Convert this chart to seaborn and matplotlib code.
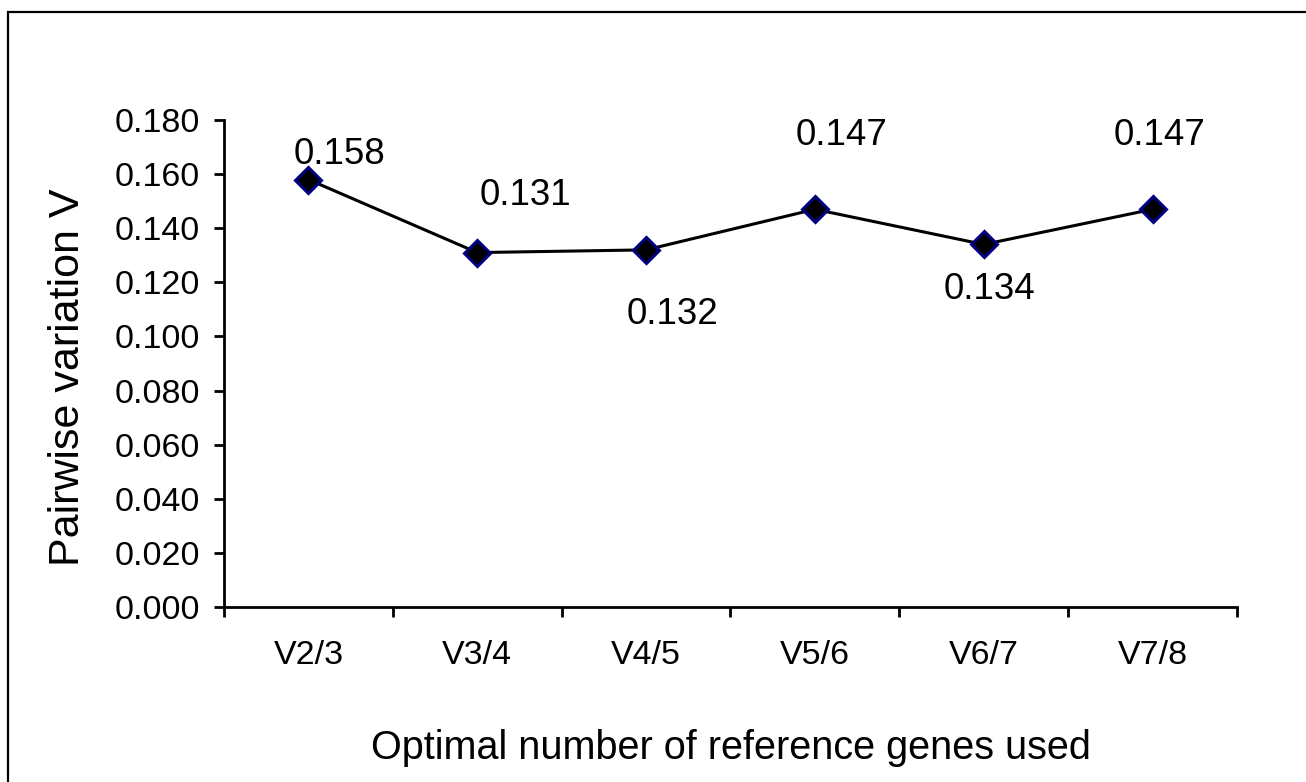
import matplotlib
matplotlib.use("Agg")
import matplotlib.pyplot as plt
import matplotlib.patches as mpatches
import seaborn as sns
import pandas as pd

# ---- data ----
categories = ["V2/3", "V3/4", "V4/5", "V5/6", "V6/7", "V7/8"]
pairwise_v = [0.158, 0.131, 0.132, 0.147, 0.134, 0.147]
y_ticks = [0.000, 0.020, 0.040, 0.060, 0.080, 0.100, 0.120, 0.140, 0.160, 0.180]
y_tick_labels = ["0.000", "0.020", "0.040", "0.060", "0.080", "0.100",
                 "0.120", "0.140", "0.160", "0.180"]
x_title = "Optimal number of reference genes used"
y_title = "Pairwise variation V"

# label offsets in pixels (layout only)
label_offsets = [(31, 25), (48, 57), (26, -65), (27, 74), (6, -45), (7, 74)]

sns.set_theme(style="white")
plt.rcParams["font.family"] = ["Liberation Sans", "DejaVu Sans"]
plt.rcParams["text.color"] = "black"
plt.rcParams["axes.labelcolor"] = "black"
plt.rcParams["xtick.color"] = "black"
plt.rcParams["ytick.color"] = "black"

W, H, DPI = 1306, 782, 100
fig = plt.figure(figsize=(W / DPI, H / DPI), dpi=DPI)
fig.patch.set_facecolor("white")

ax_l, ax_r, ax_b, ax_t = 224, 1237, 607, 120
ax = fig.add_axes([ax_l / W, (H - ax_b) / H, (ax_r - ax_l) / W, (ax_b - ax_t) / H])
ax.set_facecolor("white")

df = pd.DataFrame({"cat": categories, "v": pairwise_v})
df["pos"] = range(len(categories))
sns.lineplot(data=df, x="pos", y="v", ax=ax, color="black", linewidth=2.2,
             marker="D", markersize=13, markerfacecolor="black",
             markeredgecolor="#000080", markeredgewidth=2.2)

for i, v in enumerate(pairwise_v):
    dx, dy = label_offsets[i]
    ax.annotate(f"{v:.3f}", (df["pos"][i], v), xytext=(dx, dy),
                textcoords="offset pixels", ha="center", va="center",
                fontsize=26.5, color="black")

ax.set_xlim(-0.5, len(categories) - 0.5)
ax.set_ylim(0, 0.18)

# x axis: tick marks at category boundaries, labels at centres
ax.set_xticks([i - 0.5 for i in range(len(categories) + 1)])
ax.set_xticklabels([])
ax.set_xticks(list(range(len(categories))), minor=True)
ax.set_xticklabels(categories, minor=True, fontsize=24.5, color="black")
ax.tick_params(axis="x", which="major", direction="out", length=7.5, width=2,
               color="black", bottom=True)
ax.tick_params(axis="x", which="minor", length=0, pad=24, bottom=True)

ax.set_yticks(y_ticks)
ax.set_yticklabels(y_tick_labels, fontsize=24.5, color="black")
ax.tick_params(axis="y", direction="out", length=7.5, width=2, color="black",
               pad=10, left=True)

for s in ["top", "right"]:
    ax.spines[s].set_visible(False)
for s in ["left", "bottom"]:
    ax.spines[s].set_color("black")
    ax.spines[s].set_linewidth(2)

ax.set_xlabel(x_title, fontsize=28.5, color="black")
ax.xaxis.set_label_coords(0.5, -0.29)
ax.xaxis.label.set_va("center")
ax.set_ylabel(y_title, fontsize=31, color="black")
ax.yaxis.set_label_coords(-0.154, 0.472)
ax.yaxis.label.set_va("center")
ax.yaxis.label.set_ha("center")

# outer chart frame (left and top edges visible)
frame = mpatches.Rectangle((8 / W, -0.1), 1.2, 1.1 - 12 / H,
                           transform=fig.transFigure, fill=False,
                           edgecolor="black", linewidth=1.6, clip_on=False)
fig.patches.append(frame)

fig.savefig("out.png", dpi=DPI, facecolor="white")
